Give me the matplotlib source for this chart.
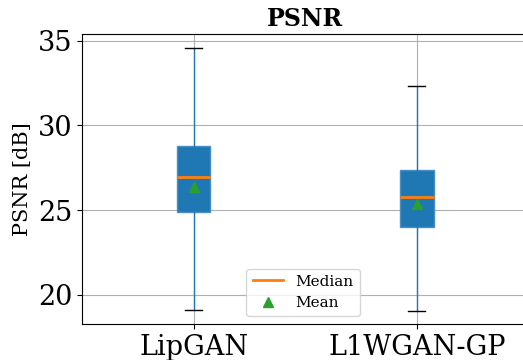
import matplotlib
matplotlib.use("Agg")
import matplotlib.pyplot as plt
from matplotlib.lines import Line2D

plt.rcParams['font.family'] = ['DejaVu Serif']

# box statistics
labels = ['LipGAN', 'L1WGAN-GP']
whislo = [19.08, 19.02]
q1 = [24.86, 24.0]
med = [26.97, 25.76]
mean = [26.38, 25.35]
q3 = [28.8, 27.35]
whishi = [34.59, 32.32]

stats = []
for i in range(len(labels)):
    stats.append({'label': labels[i], 'whislo': whislo[i], 'q1': q1[i], 'med': med[i],
                  'mean': mean[i], 'q3': q3[i], 'whishi': whishi[i], 'fliers': []})

fig = plt.figure(figsize=(5.23, 3.6), dpi=100)
ax = fig.add_axes([0.1568, 0.1, 0.8537, 0.8056])

ax.bxp(stats, showmeans=True, patch_artist=True,
       boxprops=dict(facecolor='C0', edgecolor='#4a8fc4'),
       whiskerprops=dict(color='C0'),
       medianprops=dict(color='C1', linewidth=2),
       meanprops=dict(marker='^', markerfacecolor='C2', markeredgecolor='C2', markersize=7))

ax.set_ylim(18.27, 35.4)
ax.set_xlim(0.5, 2.5)
ax.set_yticks([20, 25, 30, 35])
ax.tick_params(axis='both', labelsize=19.5)
ax.set_ylabel('PSNR [dB]', fontsize=15)
ax.set_title('PSNR', fontsize=17, fontweight='bold')
ax.grid(True)
ax.set_axisbelow(True)

handles = [Line2D([], [], color='C1', linewidth=2),
           Line2D([], [], color='C2', marker='^', linestyle='None', markersize=7)]
ax.legend(handles, ['Median', 'Mean'], loc='lower center', fontsize=11,
          bbox_to_anchor=(0.495, 0.0))

fig.savefig('out.png', dpi=100)
